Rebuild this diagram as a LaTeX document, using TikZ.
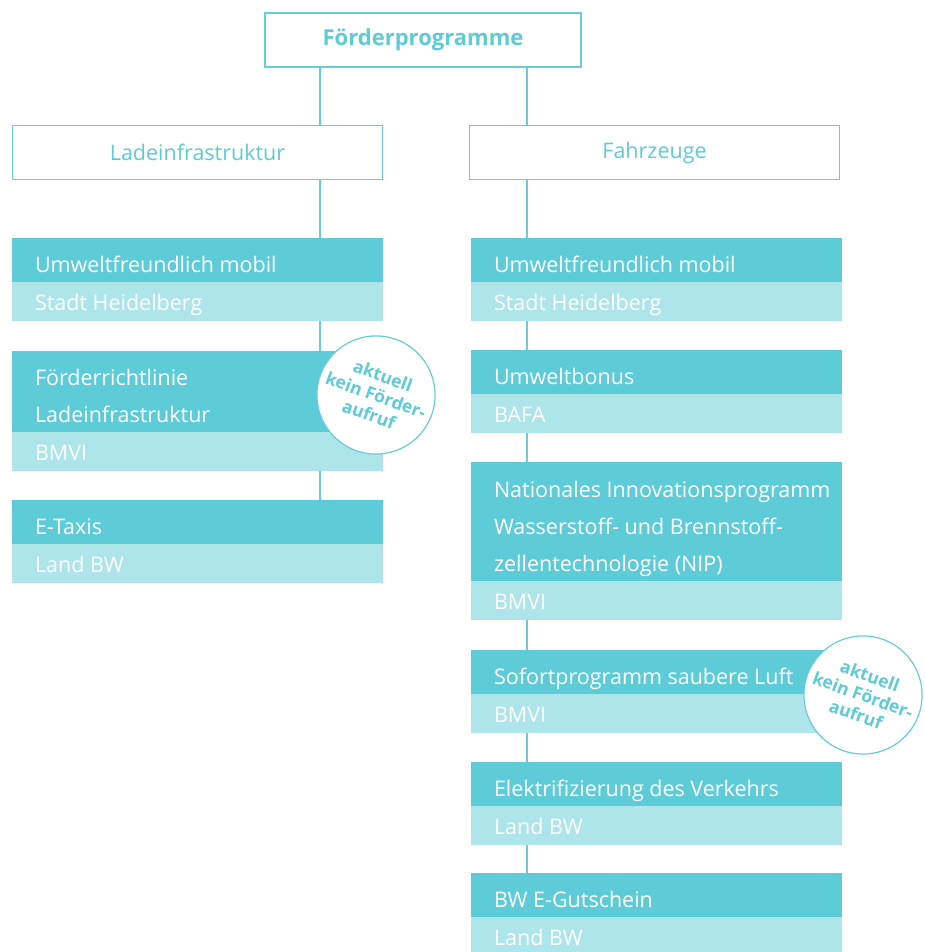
\documentclass[tikz,border=0pt]{standalone}
\usepackage{fontspec}
\setmainfont{Open Sans}
\definecolor{tealdark}{HTML}{5ECBD8}
\definecolor{teallight}{HTML}{AEE5EA}
\definecolor{tealline}{HTML}{66CEDB}
\begin{document}
\begin{tikzpicture}[x=1pt,y=-1pt,
  every node/.style={inner sep=0pt, outer sep=0pt},
  headbox/.style={draw=tealline, line width=2.6pt, fill=white, minimum width=316, minimum height=54, text=tealdark, font=\fontsize{22}{26}\selectfont\bfseries},
  catbox/.style={draw=tealline, line width=1.2pt, fill=white, minimum width=370, minimum height=54, text=tealdark, font=\fontsize{21.5}{26}\selectfont},
  darkbox/.style={fill=tealdark, minimum width=371, anchor=north west},
  lightbox/.style={fill=teallight, minimum width=371, minimum height=39, anchor=north west},
  lbl/.style={text=white, align=left, anchor=base west, font=\fontsize{21.5}{37}\selectfont},
  conn/.style={draw=tealline, line width=1.4pt},
  badge/.style={circle, draw=tealline, line width=1.2pt, fill=white, minimum size=113, text=tealdark, align=center, rotate=-20, font=\fontsize{17.5}{20.5}\selectfont\bfseries}
]
\useasboundingbox (0,0) rectangle (925,952);
\coordinate (cl) at (320,0);
\coordinate (cr) at (527,0);

\node[headbox] (top) at (423,40) {Förderprogramme};
\node[catbox] (lade) at (197.5,152.5) {Ladeinfrastruktur};
\node[catbox] (fahr) at (654.5,152.5) {Fahrzeuge};

% left column
\node[darkbox, minimum height=44] (l1d) at (12,238) {};
\node[lightbox] (l1l) at (12,282) {};
\node[darkbox, minimum height=81] (l2d) at (12,351) {};
\node[lightbox] (l2l) at (12,432) {};
\node[darkbox, minimum height=44] (l3d) at (12,500) {};
\node[lightbox] (l3l) at (12,544) {};

% right column
\node[darkbox, minimum height=44] (r1d) at (471,238) {};
\node[lightbox] (r1l) at (471,282) {};
\node[darkbox, minimum height=44] (r2d) at (471,350) {};
\node[lightbox] (r2l) at (471,394) {};
\node[darkbox, minimum height=119] (r3d) at (471,462) {};
\node[lightbox] (r3l) at (471,581) {};
\node[darkbox, minimum height=44] (r4d) at (471,650) {};
\node[lightbox] (r4l) at (471,694) {};
\node[darkbox, minimum height=44] (r5d) at (471,762) {};
\node[lightbox] (r5l) at (471,806) {};
\node[darkbox, minimum height=44] (r6d) at (471,873) {};
\node[lightbox, minimum height=35] (r6l) at (471,917) {};

% labels (base = baseline of last line)
\node[lbl] (t-l1d) at ([shift={(23,-10)}]l1d.south west) {Umweltfreundlich mobil};
\node[lbl] (t-l1l) at ([shift={(23,28)}]l1l.north west) {Stadt Heidelberg};
\node[lbl] (t-l2d) at ([shift={(23,-10)}]l2d.south west) {Förderrichtlinie\\Ladeinfrastruktur};
\node[lbl] (t-l2l) at ([shift={(23,28)}]l2l.north west) {BMVI};
\node[lbl] (t-l3d) at ([shift={(23,-10)}]l3d.south west) {E-Taxis};
\node[lbl] (t-l3l) at ([shift={(23,28)}]l3l.north west) {Land BW};

\node[lbl] (t-r1d) at ([shift={(23,-10)}]r1d.south west) {Umweltfreundlich mobil};
\node[lbl] (t-r1l) at ([shift={(23,28)}]r1l.north west) {Stadt Heidelberg};
\node[lbl] (t-r2d) at ([shift={(23,-10)}]r2d.south west) {Umweltbonus};
\node[lbl] (t-r2l) at ([shift={(23,28)}]r2l.north west) {BAFA};
\node[lbl] (t-r3d) at ([shift={(23,-10)}]r3d.south west) {Nationales Innovationsprogramm\\Wasserstoff- und Brennstoff-\\zellentechnologie (NIP)};
\node[lbl] (t-r3l) at ([shift={(23,28)}]r3l.north west) {BMVI};
\node[lbl] (t-r4d) at ([shift={(23,-10)}]r4d.south west) {Sofortprogramm saubere Luft};
\node[lbl] (t-r4l) at ([shift={(23,28)}]r4l.north west) {BMVI};
\node[lbl] (t-r5d) at ([shift={(23,-10)}]r5d.south west) {Elektrifizierung des Verkehrs};
\node[lbl] (t-r5l) at ([shift={(23,28)}]r5l.north west) {Land BW};
\node[lbl] (t-r6d) at ([shift={(23,-10)}]r6d.south west) {BW E-Gutschein};
\node[lbl] (t-r6l) at ([shift={(23,28)}]r6l.north west) {Land BW};

% connectors
\draw[conn] (top.south -| cl) -- (lade.north -| cl);
\draw[conn] (top.south -| cr) -- (fahr.north -| cr);
\draw[conn] (lade.south -| cl) -- (l1d.north -| cl);
\draw[conn] (fahr.south -| cr) -- (r1d.north -| cr);
\draw[conn] (l1l.south -| cl) -- (l2d.north -| cl);
\draw[conn] (l2l.south -| cl) -- (l3d.north -| cl);
\draw[conn] (r1l.south -| cr) -- (r2d.north -| cr);
\draw[conn] (r2l.south -| cr) -- (r3d.north -| cr);
\draw[conn] (r3l.south -| cr) -- (r4d.north -| cr);
\draw[conn] (r4l.south -| cr) -- (r5d.north -| cr);
\draw[conn] (r5l.south -| cr) -- (r6d.north -| cr);

% badges
\node[badge] (b1) at (376,395) {aktuell\\kein Förder-\\aufruf};
\node[badge] (b2) at (863,695) {aktuell\\kein Förder-\\aufruf};
\end{tikzpicture}
\end{document}
